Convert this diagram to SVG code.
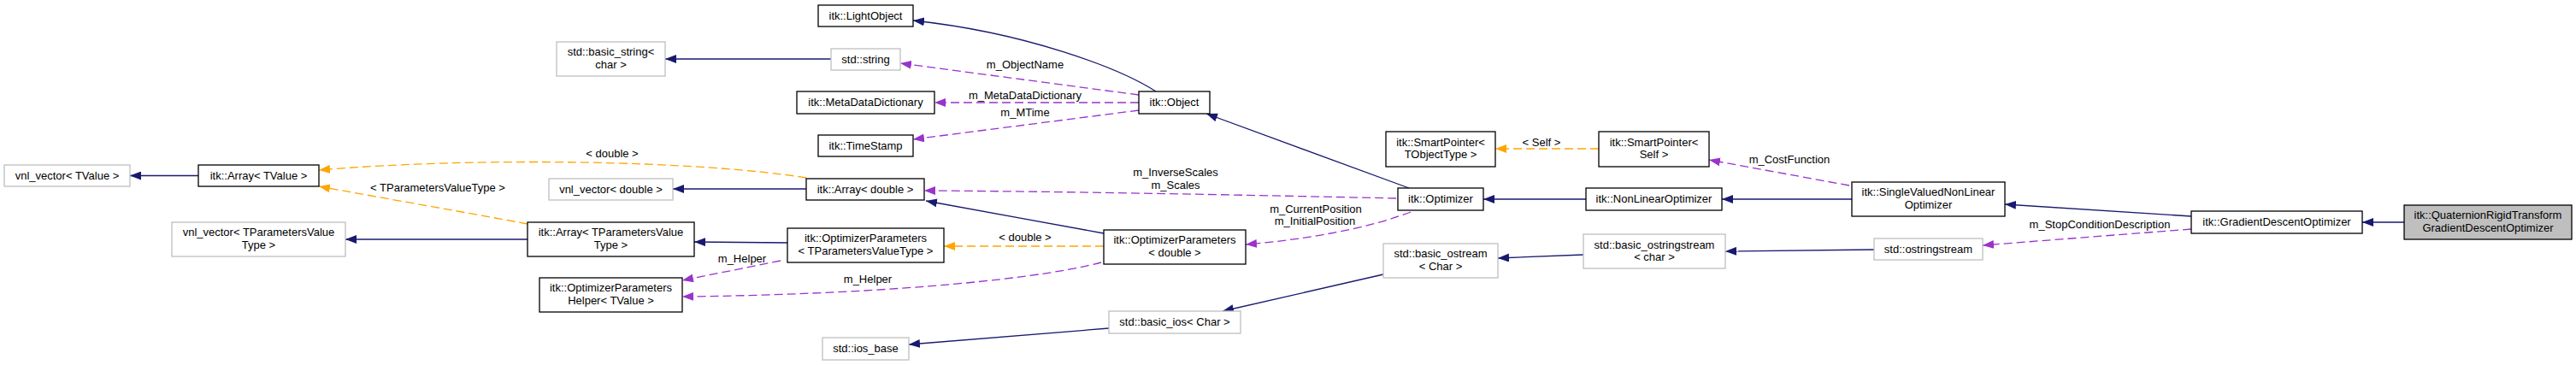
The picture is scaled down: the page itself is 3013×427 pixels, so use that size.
<svg xmlns="http://www.w3.org/2000/svg" width="3013" height="427" viewBox="0 0 3013 427">
<style>
text{font-family:"Liberation Sans",Arial,Helvetica,sans-serif;font-size:13px;text-anchor:middle;fill:#000}
.nd rect{fill:#fff;stroke:#000;stroke-width:1.3}
.gr rect{fill:#fff;stroke:#bfbfbf;stroke-width:1.3}
.hl rect{fill:#bfbfbf;stroke:#000;stroke-width:1.3}
.e{fill:none;stroke-width:1.3}
.inh{stroke:#191970;marker-end:url(#aN)}
.tpl{stroke:#ffa500;stroke-dasharray:10,5;marker-end:url(#aO)}
.use{stroke:#9a32cd;stroke-dasharray:10,5;marker-end:url(#aP)}
</style>
<defs>
<marker id="aN" viewBox="0 0 13 10" refX="13" refY="5" markerWidth="13" markerHeight="10" markerUnits="userSpaceOnUse" orient="auto"><path d="M0,0 L13,5 L0,10 z" fill="#191970"/></marker>
<marker id="aO" viewBox="0 0 13 10" refX="13" refY="5" markerWidth="13" markerHeight="10" markerUnits="userSpaceOnUse" orient="auto"><path d="M0,0 L13,5 L0,10 z" fill="#ffa500"/></marker>
<marker id="aP" viewBox="0 0 13 10" refX="13" refY="5" markerWidth="13" markerHeight="10" markerUnits="userSpaceOnUse" orient="auto"><path d="M0,0 L13,5 L0,10 z" fill="#9a32cd"/></marker>
</defs>
<rect width="3013" height="427" fill="#fff"/>
<g id="connectors">
<path class="e inh" d="M232,205.5 L152,205.5"/>
<path class="e inh" d="M617,280 L404,280"/>
<path class="e inh" d="M972,69 L778,69"/>
<path class="e inh" d="M943,221 L787,221"/>
<path class="e inh" d="M921,284 L812,283"/>
<path class="e inh" d="M1352,107 C1310,80 1200,38 1068,24"/>
<path class="e inh" d="M1648,220 L1411,133"/>
<path class="e inh" d="M1291,273 L1083,235"/>
<path class="e inh" d="M1297,384 L1063,403"/>
<path class="e inh" d="M1618,321 L1430,364"/>
<path class="e inh" d="M1855,233 L1735,233"/>
<path class="e inh" d="M1852,298 L1752,302"/>
<path class="e inh" d="M2166,233 L2014,233"/>
<path class="e inh" d="M2192,292 L2018,294"/>
<path class="e inh" d="M2563,253 L2345,239"/>
<path class="e inh" d="M2812,260 L2763,260"/>
<path class="e tpl" d="M943,208 C820,188 560,183 373,199"/>
<text x="716" y="184">&lt; double &gt;</text>
<path class="e tpl" d="M617,262 C570,253 450,232 373,218"/>
<text x="512" y="224">&lt; TParametersValueType &gt;</text>
<path class="e tpl" d="M1291,288 L1104,288"/>
<text x="1199" y="282">&lt; double &gt;</text>
<path class="e tpl" d="M1870,174 L1749,174"/>
<text x="1803" y="171">&lt; Self &gt;</text>
<path class="e use" d="M1332,111 L1053,74"/>
<text x="1199" y="80">m_ObjectName</text>
<path class="e use" d="M1332,120 L1093,120"/>
<text x="1199" y="116">m_MetaDataDictionary</text>
<path class="e use" d="M1332,129 L1068,163"/>
<text x="1199" y="136">m_MTime</text>
<path class="e use" d="M1633,232 C1450,228 1250,224 1081,223"/>
<text x="1375" y="206">m_InverseScales</text>
<text x="1375" y="221">m_Scales</text>
<path class="e use" d="M1650,248 C1600,267 1530,280 1457,286"/>
<text x="1539" y="249">m_CurrentPosition</text>
<text x="1538" y="263">m_InitialPosition</text>
<path class="e use" d="M913,305 L798,328"/>
<text x="868" y="307">m_Helper</text>
<path class="e use" d="M1288,307 C1200,330 1000,345 798,347"/>
<text x="1015" y="331">m_Helper</text>
<path class="e use" d="M2163,217 L1999,187"/>
<text x="2093" y="191">m_CostFunction</text>
<path class="e use" d="M2563,268 L2319,287"/>
<text x="2456" y="267">m_StopConditionDescription</text>
</g>
<g id="n_vnlTValue" class="gr"><rect x="5" y="193" width="147" height="25"/><text x="78.5" y="210">vnl_vector&lt; TValue &gt;</text></g>
<g id="n_ArrayTValue" class="nd"><rect x="232" y="193" width="141" height="25"/><text x="302.5" y="210">itk::Array&lt; TValue &gt;</text></g>
<g id="n_vnlTPVT" class="gr"><rect x="201" y="260" width="203" height="40"/><text x="302.5" y="276">vnl_vector&lt; TParametersValue</text><text x="302.5" y="291">Type &gt;</text></g>
<g id="n_basicstring" class="gr"><rect x="651" y="49" width="127" height="40"/><text x="714.5" y="65">std::basic_string&lt;</text><text x="714.5" y="80">char &gt;</text></g>
<g id="n_vnlDouble" class="gr"><rect x="642" y="209" width="145" height="25"/><text x="714.5" y="226">vnl_vector&lt; double &gt;</text></g>
<g id="n_ArrayTPVT" class="nd"><rect x="617" y="260" width="195" height="40"/><text x="714.5" y="276">itk::Array&lt; TParametersValue</text><text x="714.5" y="291">Type &gt;</text></g>
<g id="n_Helper" class="nd"><rect x="631" y="325" width="167" height="40"/><text x="714.5" y="341">itk::OptimizerParameters</text><text x="714.5" y="356">Helper&lt; TValue &gt;</text></g>
<g id="n_LightObject" class="nd"><rect x="957" y="6" width="111" height="25"/><text x="1012.5" y="23">itk::LightObject</text></g>
<g id="n_string" class="gr"><rect x="972" y="57" width="81" height="25"/><text x="1012.5" y="74">std::string</text></g>
<g id="n_MDD" class="nd"><rect x="932" y="107" width="161" height="26"/><text x="1012.5" y="124">itk::MetaDataDictionary</text></g>
<g id="n_TimeStamp" class="nd"><rect x="957" y="158" width="111" height="25"/><text x="1012.5" y="175">itk::TimeStamp</text></g>
<g id="n_ArrayDouble" class="nd"><rect x="943" y="209" width="138" height="25"/><text x="1012" y="226">itk::Array&lt; double &gt;</text></g>
<g id="n_OptParamsTPVT" class="nd"><rect x="921" y="267" width="183" height="40"/><text x="1012.5" y="283">itk::OptimizerParameters</text><text x="1012.5" y="298">&lt; TParametersValueType &gt;</text></g>
<g id="n_ios_base" class="gr"><rect x="962" y="395" width="101" height="26"/><text x="1012.5" y="412">std::ios_base</text></g>
<g id="n_Object" class="nd"><rect x="1332" y="107" width="83" height="26"/><text x="1373.5" y="124">itk::Object</text></g>
<g id="n_OptParamsDouble" class="nd"><rect x="1291" y="269" width="166" height="40"/><text x="1374" y="285">itk::OptimizerParameters</text><text x="1374" y="300">&lt; double &gt;</text></g>
<g id="n_basic_ios" class="gr"><rect x="1297" y="364" width="154" height="26"/><text x="1374" y="381">std::basic_ios&lt; Char &gt;</text></g>
<g id="n_SPTObj" class="nd"><rect x="1621" y="154" width="128" height="41"/><text x="1685" y="171">itk::SmartPointer&lt;</text><text x="1685" y="185">TObjectType &gt;</text></g>
<g id="n_SPSelf" class="nd"><rect x="1870" y="154" width="129" height="41"/><text x="1934.5" y="171">itk::SmartPointer&lt;</text><text x="1934.5" y="185">Self &gt;</text></g>
<g id="n_Optimizer" class="nd"><rect x="1635" y="220" width="100" height="26"/><text x="1685" y="237">itk::Optimizer</text></g>
<g id="n_NLO" class="nd"><rect x="1855" y="220" width="159" height="26"/><text x="1934.5" y="237">itk::NonLinearOptimizer</text></g>
<g id="n_basic_ostream" class="gr"><rect x="1618" y="285" width="134" height="40"/><text x="1685" y="301">std::basic_ostream</text><text x="1685" y="316">&lt; Char &gt;</text></g>
<g id="n_basic_ostringstream" class="gr"><rect x="1852" y="274" width="166" height="40"/><text x="1935" y="291">std::basic_ostringstream</text><text x="1935" y="305">&lt; char &gt;</text></g>
<g id="n_SVNLO" class="nd"><rect x="2166" y="213" width="179" height="40"/><text x="2255.5" y="229">itk::SingleValuedNonLinear</text><text x="2255.5" y="244">Optimizer</text></g>
<g id="n_ostringstream" class="gr"><rect x="2192" y="279" width="127" height="25"/><text x="2255.5" y="296">std::ostringstream</text></g>
<g id="n_GDO" class="nd"><rect x="2563" y="247" width="200" height="26"/><text x="2663" y="264">itk::GradientDescentOptimizer</text></g>
<g id="n_QRTGDO" class="hl"><rect x="2812" y="240" width="196" height="40"/><text x="2910" y="256">itk::QuaternionRigidTransform</text><text x="2910" y="271">GradientDescentOptimizer</text></g>
</svg>
